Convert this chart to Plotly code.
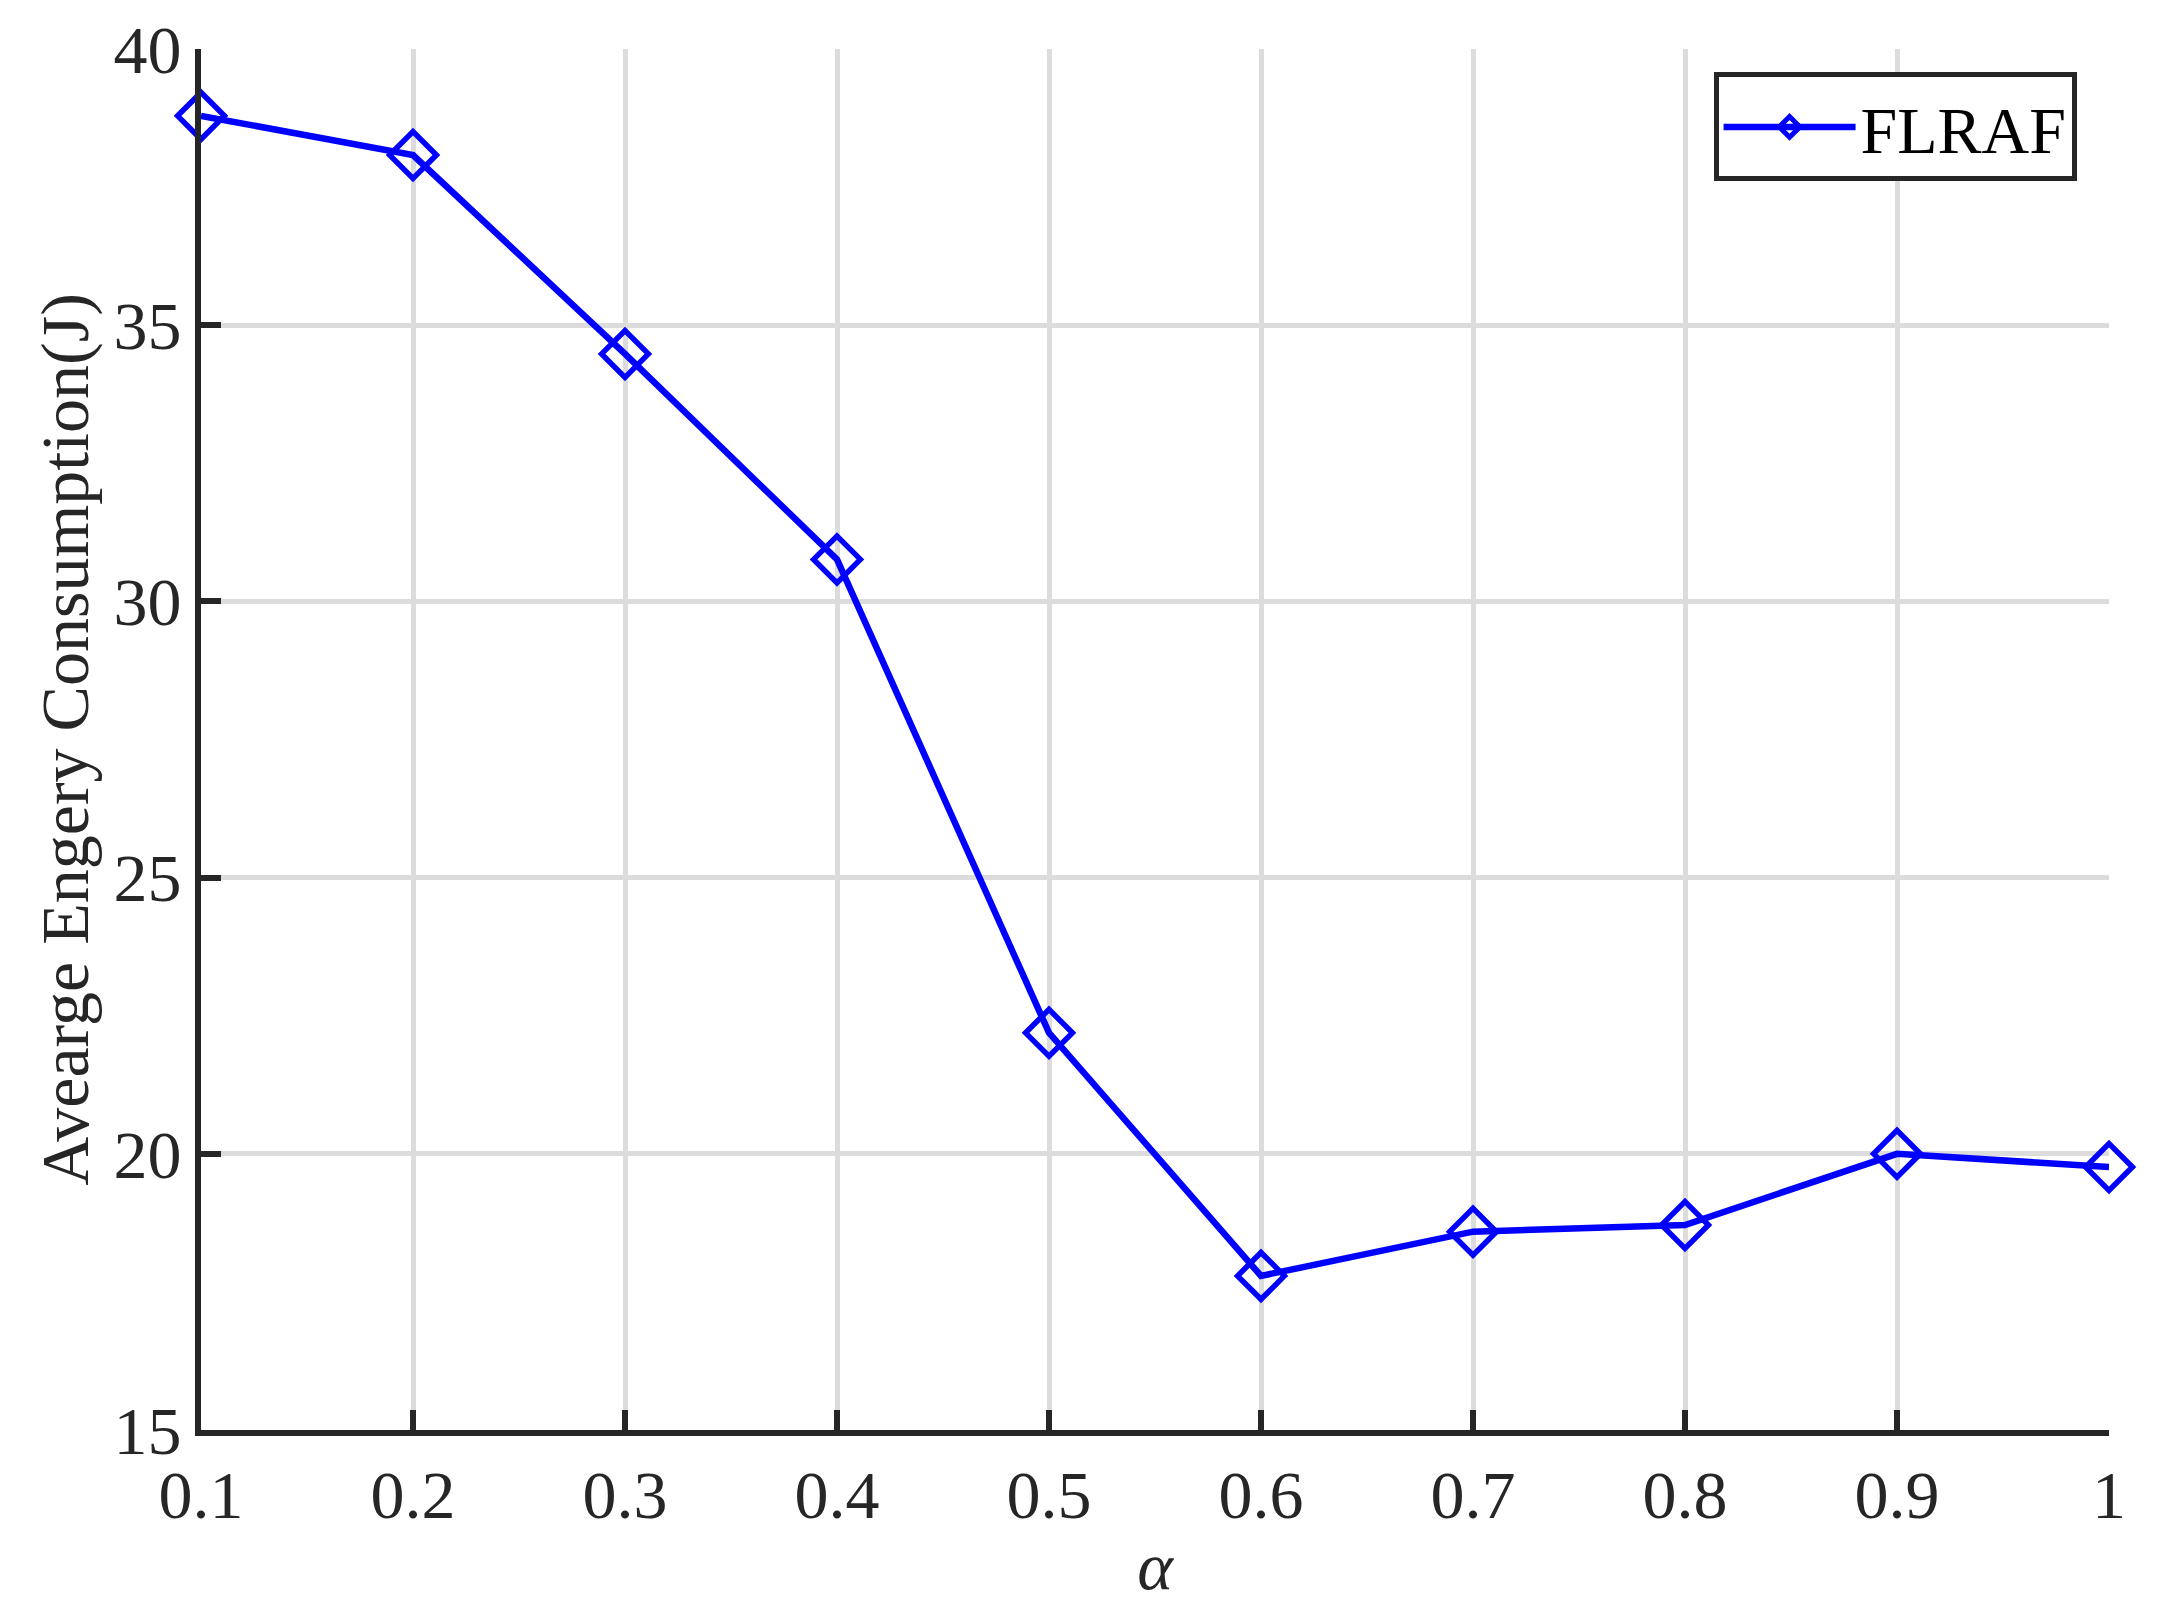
import plotly.graph_objects as go

alpha = [0.1, 0.2, 0.3, 0.4, 0.5, 0.6, 0.7, 0.8, 0.9, 1.0]
energy = [38.79, 38.08, 34.48, 30.76, 22.19, 17.79, 18.59, 18.71, 20.0, 19.76]
series_name = "FLRAF"
x_tickvals = [0.1, 0.2, 0.3, 0.4, 0.5, 0.6, 0.7, 0.8, 0.9, 1.0]
x_ticktext = ["0.1", "0.2", "0.3", "0.4", "0.5", "0.6", "0.7", "0.8", "0.9", "1"]
y_tickvals = [15, 20, 25, 30, 35, 40]
y_ticktext = ["15", "20", "25", "30", "35", "40"]

FONT = "Liberation Serif, Times New Roman, serif"
AX = "#262626"
GRID = "#dcdcdc"

fig = go.Figure()
fig.add_trace(go.Scatter(
    x=alpha, y=energy, name=series_name, mode="lines+markers",
    line=dict(color="#0000ff", width=6.5),
    marker=dict(symbol="diamond-open", size=36, color="#0000ff",
                line=dict(color="#0000ff", width=5.5)),
    cliponaxis=False,
))

fig.update_layout(
    width=2160, height=1624,
    margin=dict(l=201, r=51, t=43, b=194),
    paper_bgcolor="white", plot_bgcolor="white",
    font=dict(family=FONT, size=68, color=AX),
    showlegend=True,
    legend=dict(
        x=0.983, y=0.983, xanchor="right", yanchor="top",
        bgcolor="white", bordercolor=AX, borderwidth=5,
        font=dict(family=FONT, size=66, color="black"),
        itemwidth=132,
    ),
)

fig.update_xaxes(
    range=[0.1, 1.0], tickvals=x_tickvals, ticktext=x_ticktext,
    showgrid=True, gridcolor=GRID, gridwidth=4.5,
    showline=True, linecolor=AX, linewidth=6,
    ticks="inside", ticklen=20, tickwidth=6, tickcolor=AX,
    zeroline=False,
    title=dict(text="<i>α</i>", font=dict(family=FONT, size=68, color=AX), standoff=12),
)
fig.update_yaxes(
    range=[15, 40], tickvals=y_tickvals, ticktext=y_ticktext,
    showgrid=True, gridcolor=GRID, gridwidth=4.5,
    showline=True, linecolor=AX, linewidth=6,
    ticks="inside", ticklen=20, tickwidth=6, tickcolor=AX,
    zeroline=False,
    title=dict(text="Avearge Engery Consumption(J)", font=dict(family=FONT, size=68, color=AX), standoff=5),
)

fig.write_html("out.html", config={"displayModeBar": False},
               post_script="document.body.style.margin='0';")
